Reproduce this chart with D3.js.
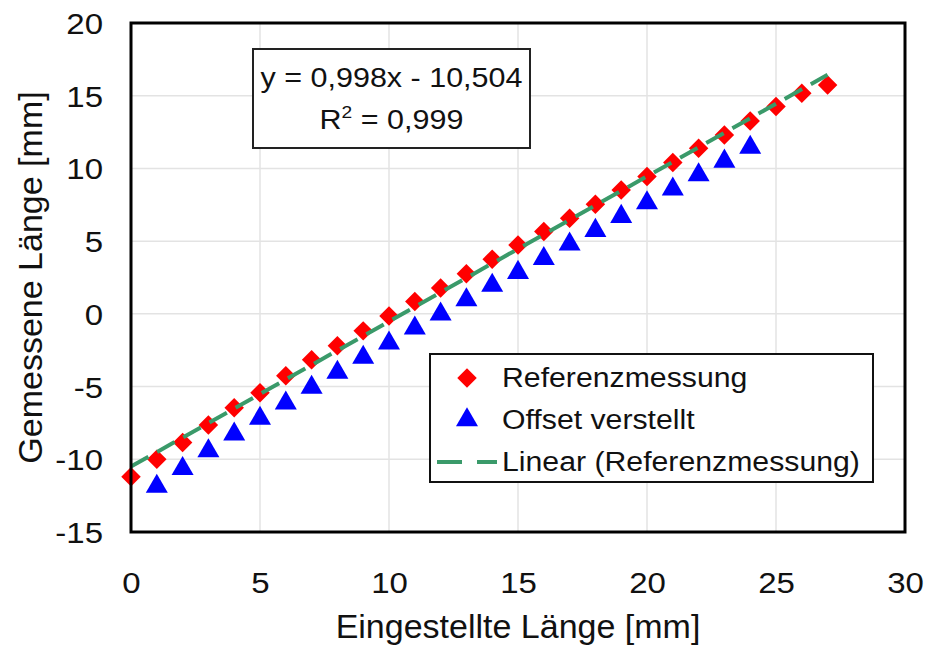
<!DOCTYPE html>
<html><head><meta charset="utf-8">
<script src="https://cdn.jsdelivr.net/npm/d3@7"></script>
<style>body{margin:0;background:#fff}svg{display:block}text{font-family:"Liberation Sans",Arial,sans-serif;fill:#111}</style>
</head><body>
<script>
const xTicks = [0, 5, 10, 15, 20, 25, 30];
const yTicks = [-15, -10, -5, 0, 5, 10, 15, 20];
const refX = [0,1,2,3,4,5,6,7,8,9,10,11,12,13,14,15,16,17,18,19,20,21,22,23,24,25,26,27];
const refY = [-11.2,-10.0,-8.85,-7.65,-6.46,-5.43,-4.26,-3.16,-2.2,-1.17,-0.14,0.85,1.77,2.75,3.76,4.74,5.66,6.58,7.54,8.52,9.44,10.4,11.39,12.3,13.26,14.25,15.17,15.74];
const offX = [1,2,3,4,5,6,7,8,9,10,11,12,13,14,15,16,17,18,19,20,21,22,23,24];
const offY = [-11.87,-10.65,-9.42,-8.27,-7.19,-6.14,-5.06,-4.03,-3.0,-2.02,-0.99,-0.02,0.96,1.95,2.84,3.8,4.79,5.73,6.69,7.63,8.57,9.55,10.49,11.45];
const fitSlope = 0.998, fitIntercept = -10.504, fitRange = [0, 27];
const seriesNames = ["Referenzmessung", "Offset verstellt", "Linear (Referenzmessung)"];
const eqLines = ["y = 0,998x - 10,504", "R² = 0,999"];
const xTitle = "Eingestellte Länge [mm]";
const yTitle = "Gemessene Länge [mm]";

const W = 927, H = 646;
const m = {left: 131, top: 23, right: 905, bottom: 532};
const svg = d3.select("body").append("svg").attr("width", W).attr("height", H);
const x = d3.scaleLinear().domain([0, 30]).range([m.left, m.right]);
const y = d3.scaleLinear().domain([-15, 20]).range([m.bottom, m.top]);
const fmt = d => String(d);

// grid
svg.append("g").selectAll("line").data(xTicks).join("line")
  .attr("x1", d => x(d)).attr("x2", d => x(d)).attr("y1", m.top).attr("y2", m.bottom)
  .attr("stroke", "#e3e3e3").attr("stroke-width", 1.5);
svg.append("g").selectAll("line").data(yTicks).join("line")
  .attr("y1", d => y(d)).attr("y2", d => y(d)).attr("x1", m.left).attr("x2", m.right)
  .attr("stroke", "#e3e3e3").attr("stroke-width", 1.5);

// axes
const ya = svg.append("g").attr("transform", `translate(${m.left},0)`)
  .call(d3.axisLeft(y).tickValues(yTicks).tickSize(0).tickFormat(fmt));
ya.select(".domain").remove();
ya.selectAll("text").attr("x", null).attr("dy", null).attr("fill", "#111")
  .attr("font-size", 30).attr("text-anchor", "end").attr("dominant-baseline", "central")
  .attr("transform", "translate(-28,0) scale(1.1,1)");
const xa = svg.append("g").attr("transform", `translate(0,${m.bottom})`)
  .call(d3.axisBottom(x).tickValues(xTicks).tickSize(0).tickFormat(fmt));
xa.select(".domain").remove();
xa.selectAll("text").attr("y", null).attr("dy", null).attr("fill", "#111")
  .attr("font-size", 30).attr("text-anchor", "middle").attr("dominant-baseline", "central")
  .attr("transform", "translate(0,51) scale(1.1,1)");

// titles
svg.append("text").attr("text-anchor", "middle").attr("font-size", 34)
  .attr("transform", `translate(${(m.left + m.right) / 2},638)`).text(xTitle);
svg.append("text").attr("text-anchor", "middle").attr("font-size", 34)
  .attr("transform", `translate(42,${(m.top + m.bottom) / 2}) rotate(-90)`).text(yTitle);

// markers
const diamond = d3.symbol().type(d3.symbolSquare).size(190)();
const tri = d3.symbol().type(d3.symbolTriangle).size(210)();
svg.append("g").selectAll("path").data(offX.map((v, i) => [v, offY[i]])).join("path")
  .attr("d", tri).attr("fill", "#0000ff")
  .attr("transform", d => `translate(${x(d[0])},${y(d[1])})`);
svg.append("g").selectAll("path").data(refX.map((v, i) => [v, refY[i]])).join("path")
  .attr("d", diamond).attr("fill", "#ff0000")
  .attr("transform", d => `translate(${x(d[0])},${y(d[1])}) rotate(45)`);

// trend line
const line = d3.line().x(d => x(d)).y(d => y(fitSlope * d + fitIntercept));
svg.append("path").datum(fitRange).attr("d", line).attr("fill", "none")
  .attr("stroke", "#3a9a6a").attr("stroke-width", 4).attr("stroke-dasharray", "20,10");

// frame
svg.append("rect").attr("x", m.left).attr("y", m.top).attr("width", m.right - m.left).attr("height", m.bottom - m.top)
  .attr("fill", "none").attr("stroke", "#000").attr("stroke-width", 3);

// equation box
const eq = svg.append("g");
eq.append("rect").attr("x", 253).attr("y", 49).attr("width", 277).attr("height", 99)
  .attr("fill", "#fff").attr("stroke", "#222").attr("stroke-width", 2);
eq.append("text").attr("text-anchor", "middle").attr("font-size", 27)
  .attr("transform", "translate(391.5,87) scale(1.13,1)").text(eqLines[0]);
const t2 = eq.append("text").attr("text-anchor", "middle").attr("font-size", 27)
  .attr("transform", "translate(391.5,129) scale(1.13,1)");
t2.append("tspan").text("R");
t2.append("tspan").attr("font-size", 17).attr("dy", -11).text("2");
t2.append("tspan").attr("dy", 11).text(" = 0,999");

// legend
const lg = svg.append("g");
lg.append("rect").attr("x", 430).attr("y", 354).attr("width", 443).attr("height", 128)
  .attr("fill", "#fff").attr("stroke", "#111").attr("stroke-width", 2);
const rows = [378, 420, 462];
lg.append("path").attr("d", diamond).attr("fill", "#ff0000").attr("transform", `translate(467,${rows[0]}) rotate(45)`);
lg.append("path").attr("d", tri).attr("fill", "#0000ff").attr("transform", `translate(467,${rows[1]})`);
lg.append("line").attr("x1", 437).attr("x2", 497).attr("y1", rows[2]).attr("y2", rows[2])
  .attr("stroke", "#3a9a6a").attr("stroke-width", 4).attr("stroke-dasharray", "25,15");
lg.selectAll("text.l").data(seriesNames).join("text").attr("class", "l")
  .attr("font-size", 27).attr("dominant-baseline", "central")
  .attr("transform", (d, i) => `translate(502,${rows[i]}) scale(1.12,1)`).text(d => d);
</script>
</body></html>
